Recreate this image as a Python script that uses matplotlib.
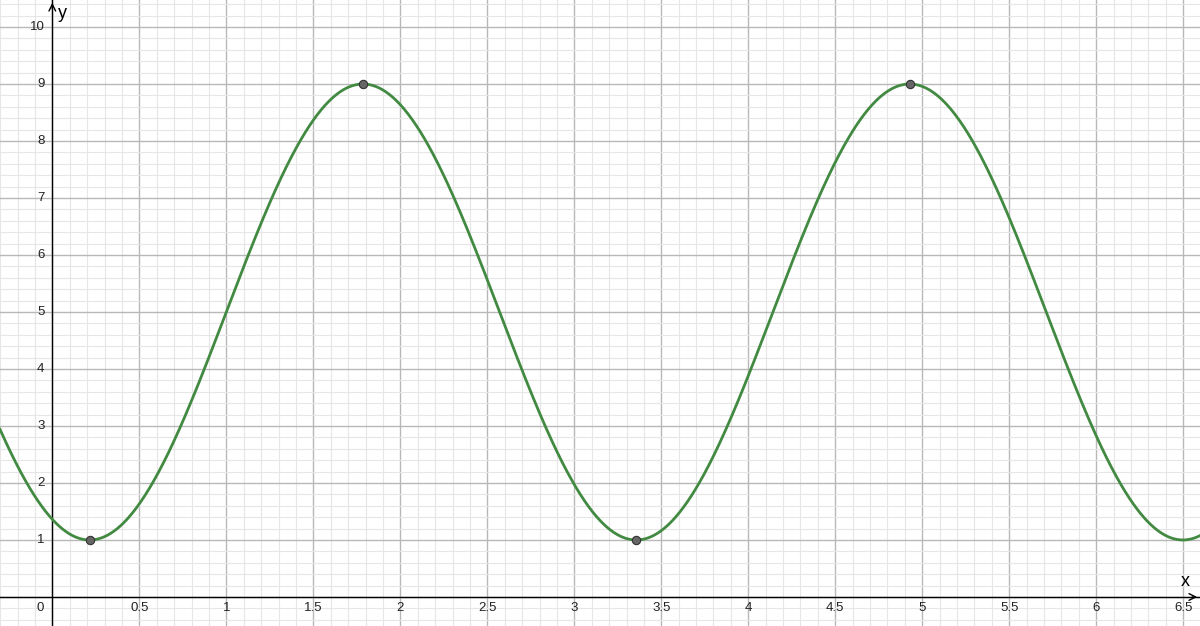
import numpy as np
import matplotlib.pyplot as plt
from matplotlib.ticker import MultipleLocator

plt.rcParams['font.family'] = ['Liberation Sans', 'DejaVu Sans']

# curve: y = offset + amp * sin(freq * x - phase)
offset = 5.0
amp = 4.0
freq = 2.0
phase = 2.0

# marked extrema (min, max, min, max)
pt_x = [0.2146, 1.7854, 3.3562, 4.9270]
pt_y = [1, 9, 1, 9]

x_ticks = [0.5, 1, 1.5, 2, 2.5, 3, 3.5, 4, 4.5, 5, 5.5, 6, 6.5]
x_tick_labels = ["0.5", "1", "1.5", "2", "2.5", "3", "3.5", "4", "4.5", "5", "5.5", "6", "6.5"]
y_ticks = [1, 2, 3, 4, 5, 6, 7, 8, 9, 10]

XMIN, XMAX = -0.3006, 6.596
YMIN, YMAX = -0.509, 10.474

fig = plt.figure(figsize=(12, 6.26), dpi=100)
ax = fig.add_axes([0, 0, 1, 1])
ax.set_xlim(XMIN, XMAX)
ax.set_ylim(YMIN, YMAX)
for s in ax.spines.values():
    s.set_visible(False)

# grid
ax.xaxis.set_major_locator(MultipleLocator(0.5))
ax.xaxis.set_minor_locator(MultipleLocator(0.1))
ax.yaxis.set_major_locator(MultipleLocator(1))
ax.yaxis.set_minor_locator(MultipleLocator(0.2))
ax.grid(which='major', color='#b8b8b8', linewidth=1.0)
ax.grid(which='minor', color='#e6e6e6', linewidth=0.8)
ax.tick_params(which='both', length=0, labelbottom=False, labelleft=False)
ax.set_axisbelow(True)

# axes with arrows
ax.axhline(0, color='black', linewidth=1.0, zorder=2)
ax.axvline(0, color='black', linewidth=1.0, zorder=2)
ax.annotate('', xy=(XMAX, 0), xytext=(XMAX - 0.06, 0),
            arrowprops=dict(arrowstyle='->', color='black', lw=1.0, mutation_scale=12))
ax.annotate('', xy=(0, YMAX), xytext=(0, YMAX - 0.2),
            arrowprops=dict(arrowstyle='->', color='black', lw=1.0, mutation_scale=12))
ax.text(XMAX - 0.085, 0.12, 'x', fontsize=13, ha='center', va='bottom')
ax.text(0.035, YMAX - 0.08, 'y', fontsize=13, ha='left', va='top')

# tick labels
ax.text(-0.068, -0.2, '0', fontsize=9.5, ha='center', va='center', color='#222222')
for xv, lab in zip(x_ticks, x_tick_labels):
    ax.text(xv, -0.2, lab, fontsize=9.5, ha='center', va='center', color='#222222')
for yv in y_ticks:
    ax.text(-0.045, yv, str(yv), fontsize=9.5, ha='right', va='center', color='#222222')

# function
xs = np.linspace(XMIN, XMAX, 1200)
ys = offset + amp * np.sin(freq * xs - phase)
ax.plot(xs, ys, color='#428a42', linewidth=2.0, zorder=3)

ax.scatter(pt_x, pt_y, s=36, color='#666666', edgecolor='#333333', linewidth=0.8, zorder=4)

fig.savefig('out.png', dpi=100)
